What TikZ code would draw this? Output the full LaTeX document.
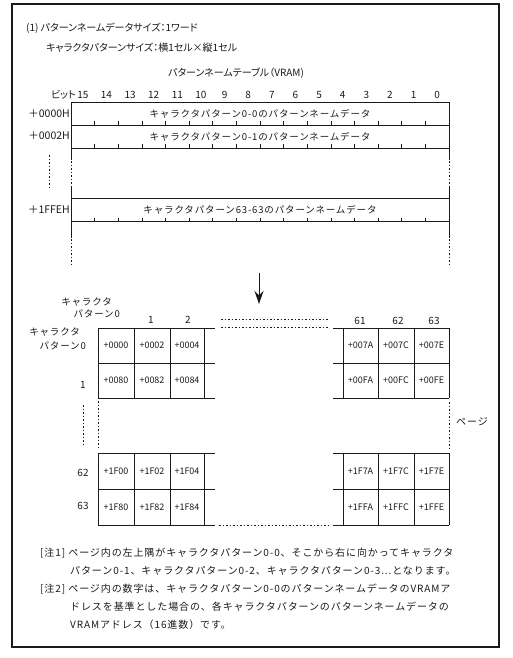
\documentclass[tikz,border=0pt]{standalone}
\usepackage{fontspec}
\setmainfont{Noto Sans CJK JP}
\newfontfamily\jpprop{Noto Sans CJK JP}[RawFeature=+palt]
\newfontfamily\jpwide{Noto Sans CJK JP}[LetterSpace=9]
\usepackage{tikz}
\usetikzlibrary{arrows.meta,positioning}
\definecolor{Ink}{HTML}{1A1A1A}

\tikzset{
  tblrow/.style={draw=Ink,line width=0.8pt,minimum width=378pt,minimum height=23pt,inner sep=0pt,font=\fontsize{9.5}{10}\selectfont\jpwide},
  cellnum/.style={font=\fontsize{9}{10}\selectfont,inner sep=0pt},
  lbl/.style={font=\fontsize{10}{11}\selectfont\jpprop,inner sep=0pt},
  hdr/.style={font=\fontsize{9.5}{10}\selectfont\jpwide,inner sep=0pt,anchor=east},
  note/.style={anchor=west,font=\fontsize{10}{11}\selectfont\jpwide,inner sep=0pt},
  dotline/.style={line width=0.8pt,dash pattern=on 1.5pt off 2pt},
  gridline/.style={line width=0.9pt,draw=Ink},
}

\begin{document}
\begin{tikzpicture}[x=1pt,y=-1pt,Ink]
  \useasboundingbox (0,0) rectangle (512,658);
  \draw[line width=1.3pt] (12,4) rectangle (499,647);

  \node[lbl,anchor=west] (size1) at (26,28) {(1) パターンネームデータサイズ：1ワード};
  \node[lbl,anchor=west] (size2) at (46,48) {キャラクタパターンサイズ：横1セル×縦1セル};
  \node[lbl] (ttl) at (236,73) {パターンネームテーブル（VRAM)};

  \node[lbl,anchor=east] (bit) at (76,95) {ビット};
  \foreach \b in {0,...,15}
    \node[lbl] (bit\b) at ({71+23.625*(15-\b)+11.8},95) {\b};

  \node[tblrow] (r0) at (260,113.5) {キャラクタパターン0-0のパターンネームデータ};
  \node[tblrow] (r1) at (260,136.5) {キャラクタパターン0-1のパターンネームデータ};
  \node[tblrow] (r2) at (260,210) {キャラクタパターン63-63のパターンネームデータ};
  \foreach \y in {125,148,222}
    \foreach \k in {1,...,15}
      \draw[line width=0.6pt] ({71+23.625*\k},\y) -- ++(0,-4);

  \node[lbl,anchor=east,font=\fontsize{10.5}{11}\selectfont] (a0) at (70,114) {＋0000H};
  \node[lbl,anchor=east,font=\fontsize{10.5}{11}\selectfont] (a1) at (70,136) {＋0002H};
  \node[lbl,anchor=east,font=\fontsize{10.5}{11}\selectfont] (a2) at (70,210) {＋1FFEH};
  \draw[dotline] (49,155) -- (49,187);

  \foreach \x in {71,449}{
    \draw[line width=0.8pt] (\x,148) -- (\x,160) (\x,187) -- (\x,198) (\x,222) -- (\x,238);
    \draw[dotline] (\x,161) -- (\x,186);
    \draw[dotline] (\x,239) -- (\x,265);
  }

  \coordinate (arrS) at (259,273);
  \coordinate (arrE) at (259,304);
  \draw[line width=1pt,-{Stealth[length=13pt,width=9pt]}] (arrS) -- (arrE);

  % page grid
  \node[hdr] (ch1) at (112,302) {キャラクタ};
  \node[hdr] (ch2) at (120,314) {パターン0};
  \node[lbl] (c1) at (151,320) {1};
  \node[lbl] (c2) at (188,320) {2};
  \node[lbl] (c61) at (360,321) {61};
  \node[lbl] (c62) at (398,321) {62};
  \node[lbl] (c63) at (434,321) {63};
  \node[hdr] (rh1) at (80,332) {キャラクタ};
  \node[hdr] (rh2) at (86,346) {パターン0};
  \node[lbl] (r1l) at (83,385) {1};
  \node[lbl] (r62l) at (83,473) {62};
  \node[lbl] (r63l) at (83,506) {63};

  \foreach \t/\m/\b in {328/363/398,453/489/525}{
    \foreach \y in {\t,\m,\b}
      \draw[gridline] (98,\y) -- (215,\y) (333,\y) -- (449,\y);
    \foreach \x in {98,134,170,204,343,378,414,449}
      \draw[gridline] (\x,\t) -- (\x,\b);
  }

  \foreach \v [count=\i] in {+0000,+0002,+0004,+0080,+0082,+0084,+1F00,+1F02,+1F04,+1F80,+1F82,+1F84}{
    \pgfmathsetmacro{\cx}{{116,152,187}[mod(\i-1,3)]}
    \pgfmathsetmacro{\cy}{{345.5,380.5,471,507}[int((\i-1)/3)]}
    \node[cellnum] (cl\i) at (\cx,\cy) {\v};
  }
  \foreach \v [count=\i] in {+007A,+007C,+007E,+00FA,+00FC,+00FE,+1F7A,+1F7C,+1F7E,+1FFA,+1FFC,+1FFE}{
    \pgfmathsetmacro{\cx}{{360.5,396,431.5}[mod(\i-1,3)]}
    \pgfmathsetmacro{\cy}{{345.5,380.5,471,507}[int((\i-1)/3)]}
    \node[cellnum] (cr\i) at (\cx,\cy) {\v};
  }

  \draw[dotline] (221,319) -- (328,319);
  \draw[dotline] (221,327) -- (328,327);
  \draw[dotline] (219,525) -- (330,525);
  \draw[dotline] (98,401) -- (98,449);
  \draw[dotline] (83,405) -- (83,447);
  \draw[dotline] (449,402) -- (449,451);
  \node[lbl,anchor=west,font=\fontsize{10}{11}\selectfont\jpwide] (page) at (456,422) {ページ};

  \node[note] (n1) at (40,553) {[注1] ページ内の左上隅がキャラクタパターン0-0、そこから右に向かってキャラクタ};
  \node[note] (n1b) at (70,571) {パターン0-1、キャラクタパターン0-2、キャラクタパターン0-3...となります。};
  \node[note] (n2) at (40,589) {[注2] ページ内の数字は、キャラクタパターン0-0のパターンネームデータのVRAMア};
  \node[note] (n2b) at (70,607) {ドレスを基準とした場合の、各キャラクタパターンのパターンネームデータの};
  \node[note] (n2c) at (70,625) {VRAMアドレス（16進数）です。};
\end{tikzpicture}
\end{document}
